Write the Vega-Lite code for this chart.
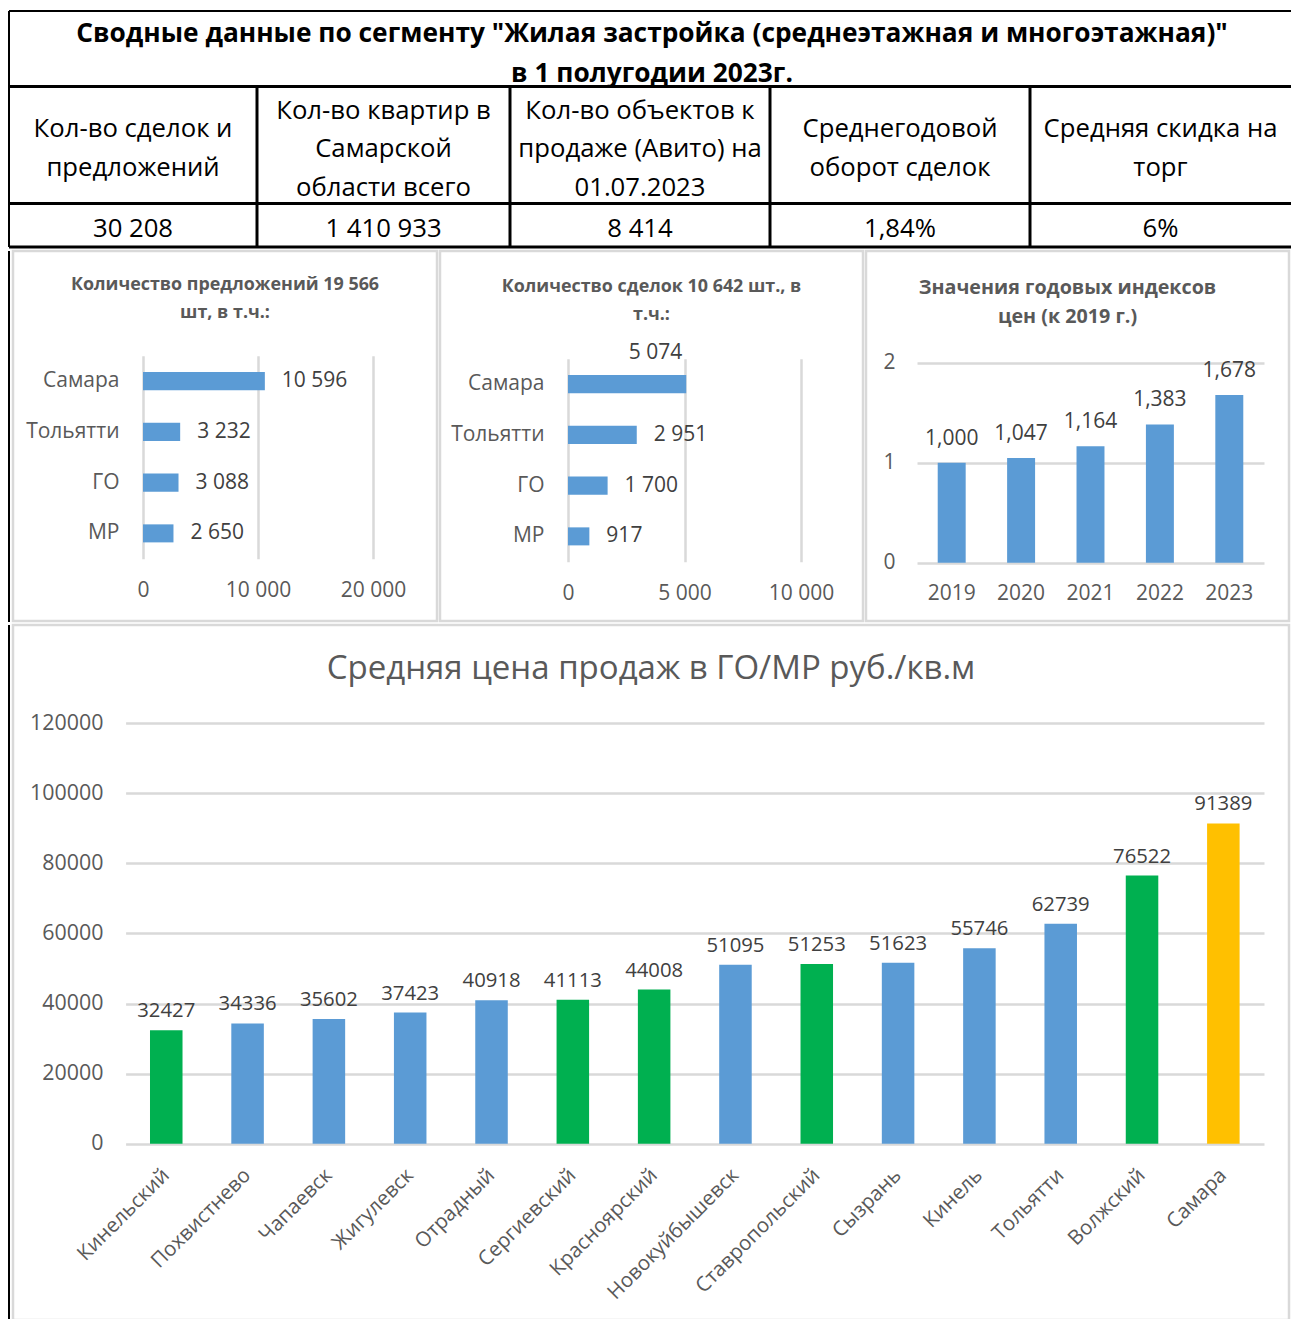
{
  "$schema": "https://vega.github.io/schema/vega-lite/v6.json",
  "padding": 0,
  "background": "white",
  "spacing": 0,
  "config": {
    "view": {"stroke": null},
    "font": "Open Sans",
    "locale": {"number": {"decimal": ",", "thousands": " ", "grouping": [3], "currency": ["", ""]}},
    "axis": {"domain": false, "ticks": false, "tickSize": 0, "labelPadding": 0, "labelColor": "#595959", "labelFont": "Open Sans", "labelFontSize": 21, "gridColor": "#d9d9d9", "gridWidth": 2.5, "labelFlush": false, "labelOverlap": false},
    "title": {"color": "#595959", "font": "Open Sans", "anchor": "middle", "frame": "group", "baseline": "top"}
  },
  "datasets": {
    "tableCells": [
      {"col": 0, "header": ["Кол-во сделок и", "предложений"], "value": "30 208"},
      {"col": 1, "header": ["Кол-во квартир в", "Самарской", "области всего"], "value": "1 410 933"},
      {"col": 2, "header": ["Кол-во объектов к", "продаже (Авито) на", "01.07.2023"], "value": "8 414"},
      {"col": 3, "header": ["Среднегодовой", "оборот сделок"], "value": "1,84%"},
      {"col": 4, "header": ["Средняя скидка на", "торг"], "value": "6%"}
    ],
    "offers": [
      {"city": "Самара", "count": 10596},
      {"city": "Тольятти", "count": 3232},
      {"city": "ГО", "count": 3088},
      {"city": "МР", "count": 2650}
    ],
    "deals": [
      {"city": "Самара", "count": 5074},
      {"city": "Тольятти", "count": 2951},
      {"city": "ГО", "count": 1700},
      {"city": "МР", "count": 917}
    ],
    "indexes": [
      {"year": "2019", "index": 1.000},
      {"year": "2020", "index": 1.047},
      {"year": "2021", "index": 1.164},
      {"year": "2022", "index": 1.383},
      {"year": "2023", "index": 1.678}
    ],
    "prices": [
      {"city": "Кинельский", "type": "МР", "price": 32427},
      {"city": "Похвистнево", "type": "ГО", "price": 34336},
      {"city": "Чапаевск", "type": "ГО", "price": 35602},
      {"city": "Жигулевск", "type": "ГО", "price": 37423},
      {"city": "Отрадный", "type": "ГО", "price": 40918},
      {"city": "Сергиевский", "type": "МР", "price": 41113},
      {"city": "Красноярский", "type": "МР", "price": 44008},
      {"city": "Новокуйбышевск", "type": "ГО", "price": 51095},
      {"city": "Ставропольский", "type": "МР", "price": 51253},
      {"city": "Сызрань", "type": "ГО", "price": 51623},
      {"city": "Кинель", "type": "ГО", "price": 55746},
      {"city": "Тольятти", "type": "ГО", "price": 62739},
      {"city": "Волжский", "type": "МР", "price": 76522},
      {"city": "Самара", "type": "Самара", "price": 91389}
    ]
  },
  "vconcat": [
    {
      "width": 1291,
      "height": 249,
      "layer": [
        {
          "data": {"name": "tableCells"},
          "transform": [{"filter": "length(datum.header) === 2"}],
          "mark": {"type": "text", "fontSize": 25.7, "lineHeight": 39, "baseline": "middle", "align": "center", "dy": -16.5, "color": "#000000"},
          "encoding": {
            "x": {"field": "col", "type": "quantitative", "scale": {"domain": [-0.5, 0.5, 1.5, 2.5, 3.5, 4.5], "range": [9, 257, 510, 770, 1030, 1291], "nice": false, "zero": false}, "axis": null},
            "y": {"datum": 1.5, "type": "quantitative", "scale": {"domain": [0, 1, 2, 3], "range": [11, 86.5, 203.5, 247], "nice": false, "zero": false}, "axis": null},
            "text": {"field": "header"}
          }
        },
        {
          "data": {"name": "tableCells"},
          "transform": [{"filter": "length(datum.header) === 3"}],
          "mark": {"type": "text", "fontSize": 25.7, "lineHeight": 38.5, "baseline": "middle", "align": "center", "dy": -34.5, "color": "#000000"},
          "encoding": {
            "x": {"field": "col", "type": "quantitative"},
            "y": {"datum": 1.5, "type": "quantitative"},
            "text": {"field": "header"}
          }
        },
        {
          "data": {"name": "tableCells"},
          "mark": {"type": "text", "fontSize": 25.7, "baseline": "middle", "align": "center", "dy": 3.5, "color": "#000000"},
          "encoding": {
            "x": {"field": "col", "type": "quantitative"},
            "y": {"datum": 2.5, "type": "quantitative"},
            "text": {"field": "value"}
          }
        },
        {
          "data": {"values": [{}]},
          "mark": {"type": "text", "text": ["Сводные данные по сегменту \"Жилая застройка (среднеэтажная и многоэтажная)\"", "в 1 полугодии 2023г."], "fontSize": 26.3, "fontWeight": "bold", "lineHeight": 40, "baseline": "middle", "align": "center", "dx": 12, "dy": -15, "color": "#000000"},
          "encoding": {"x": {"datum": 2, "type": "quantitative"}, "y": {"datum": 0.5, "type": "quantitative"}}
        },
        {
          "data": {"values": [{}]},
          "mark": {"type": "rule", "color": "#000000", "strokeWidth": 2},
          "encoding": {"x": {"datum": -0.5, "type": "quantitative"}, "x2": {"datum": 4.5}, "y": {"datum": 0, "type": "quantitative"}}
        },
        {
          "data": {"values": [{}]},
          "mark": {"type": "rule", "color": "#000000", "strokeWidth": 3},
          "encoding": {"x": {"datum": -0.5, "type": "quantitative"}, "x2": {"datum": 4.5}, "y": {"datum": 1, "type": "quantitative"}}
        },
        {
          "data": {"values": [{}]},
          "mark": {"type": "rule", "color": "#000000", "strokeWidth": 3},
          "encoding": {"x": {"datum": -0.5, "type": "quantitative"}, "x2": {"datum": 4.5}, "y": {"datum": 2, "type": "quantitative"}}
        },
        {
          "data": {"values": [{}]},
          "mark": {"type": "rule", "color": "#000000", "strokeWidth": 3},
          "encoding": {"x": {"datum": -0.5, "type": "quantitative"}, "x2": {"datum": 4.5}, "y": {"datum": 3, "type": "quantitative"}}
        },
        {
          "data": {"values": [{}]},
          "mark": {"type": "rule", "color": "#000000", "strokeWidth": 2},
          "encoding": {"x": {"datum": -0.5, "type": "quantitative"}, "y": {"datum": 0, "type": "quantitative"}, "y2": {"datum": 3}}
        },
        {
          "data": {"values": [{}]},
          "mark": {"type": "rule", "color": "#000000", "strokeWidth": 3},
          "encoding": {"x": {"datum": 0.5, "type": "quantitative"}, "y": {"datum": 1, "type": "quantitative"}, "y2": {"datum": 3}}
        },
        {
          "data": {"values": [{}]},
          "mark": {"type": "rule", "color": "#000000", "strokeWidth": 3},
          "encoding": {"x": {"datum": 1.5, "type": "quantitative"}, "y": {"datum": 1, "type": "quantitative"}, "y2": {"datum": 3}}
        },
        {
          "data": {"values": [{}]},
          "mark": {"type": "rule", "color": "#000000", "strokeWidth": 3},
          "encoding": {"x": {"datum": 2.5, "type": "quantitative"}, "y": {"datum": 1, "type": "quantitative"}, "y2": {"datum": 3}}
        },
        {
          "data": {"values": [{}]},
          "mark": {"type": "rule", "color": "#000000", "strokeWidth": 3},
          "encoding": {"x": {"datum": 3.5, "type": "quantitative"}, "y": {"datum": 1, "type": "quantitative"}, "y2": {"datum": 3}}
        }
      ]
    },
    {
      "spacing": 0,
      "bounds": "flush",
      "hconcat": [
        {"width": 8, "height": 10, "view": {"stroke": null}, "data": {"values": [{}]}, "mark": {"type": "point", "opacity": 0}, "encoding": {}},
        {"width": 2, "height": 371, "view": {"fill": "#000000", "stroke": null}, "data": {"values": [{}]}, "mark": {"type": "point", "opacity": 0}, "encoding": {}},
        {"width": 3, "height": 10, "view": {"stroke": null}, "data": {"values": [{}]}, "mark": {"type": "point", "opacity": 0}, "encoding": {}},
        {
          "width": 424,
          "height": 370,
          "view": {"stroke": "#d9d9d9", "strokeWidth": 2.5},
          "title": {"text": ["Количество предложений 19 566", "шт, в т.ч.:"], "fontSize": 17.9, "fontWeight": "bold", "lineHeight": 28, "offset": -70.75},
          "data": {"name": "offers"},
          "encoding": {
            "y": {"field": "city", "type": "nominal", "sort": null, "title": null,
              "scale": {"domain": ["Самара", "Тольятти", "ГО", "МР"], "range": [104.75, 307.75], "paddingInner": 0.645, "paddingOuter": 0.3225},
              "axis": {"orient": "left", "offset": -106, "grid": false}},
            "x": {"field": "count", "type": "quantitative", "title": null,
              "scale": {"domain": [0, 20000], "range": [130, 360], "nice": false},
              "axis": {"orient": "top", "values": [0, 10000, 20000], "tickCount": 3, "format": ",d", "grid": true, "offset": -339.75, "labelBaseline": "middle"}}
          },
          "layer": [
            {"mark": {"type": "bar", "color": "#5B9BD5"}},
            {"mark": {"type": "text", "align": "left", "baseline": "middle", "dx": 17, "fontSize": 21, "color": "#404040"}, "encoding": {"text": {"field": "count", "type": "quantitative", "format": ",d"}}}
          ]
        },
        {"width": 3, "height": 10, "view": {"stroke": null}, "data": {"values": [{}]}, "mark": {"type": "point", "opacity": 0}, "encoding": {}},
        {
          "width": 423,
          "height": 370,
          "view": {"stroke": "#d9d9d9", "strokeWidth": 2.5},
          "title": {"text": ["Количество сделок 10 642 шт., в", "т.ч.:"], "fontSize": 17.9, "fontWeight": "bold", "lineHeight": 28, "offset": -72.75},
          "data": {"name": "deals"},
          "encoding": {
            "y": {"field": "city", "type": "nominal", "sort": null, "title": null,
              "scale": {"domain": ["Самара", "Тольятти", "ГО", "МР"], "range": [107.75, 310.75], "paddingInner": 0.645, "paddingOuter": 0.3225},
              "axis": {"orient": "left", "offset": -104, "grid": false}},
            "x": {"field": "count", "type": "quantitative", "title": null,
              "scale": {"domain": [0, 10000], "range": [128, 361], "nice": false},
              "axis": {"orient": "top", "values": [0, 5000, 10000], "tickCount": 3, "format": ",d", "grid": true, "offset": -342.75, "labelBaseline": "middle"}}
          },
          "layer": [
            {"mark": {"type": "bar", "color": "#5B9BD5"}},
            {"transform": [{"filter": "datum.city !== 'Самара'"}], "mark": {"type": "text", "align": "left", "baseline": "middle", "dx": 17, "fontSize": 21, "color": "#404040"}, "encoding": {"text": {"field": "count", "type": "quantitative", "format": ",d"}}},
            {"transform": [{"filter": "datum.city === 'Самара'"}], "mark": {"type": "text", "align": "right", "baseline": "middle", "dx": -4, "dy": -31, "fontSize": 21, "color": "#404040"}, "encoding": {"text": {"field": "count", "type": "quantitative", "format": ",d"}}}
          ]
        },
        {"width": 3, "height": 10, "view": {"stroke": null}, "data": {"values": [{}]}, "mark": {"type": "point", "opacity": 0}, "encoding": {}},
        {
          "width": 423,
          "height": 370,
          "view": {"stroke": "#d9d9d9", "strokeWidth": 2.5},
          "title": {"text": ["Значения годовых индексов", "цен (к 2019 г.)"], "fontSize": 19.7, "fontWeight": "bold", "lineHeight": 29, "offset": -76, "dx": -10},
          "data": {"name": "indexes"},
          "encoding": {
            "x": {"field": "year", "type": "nominal", "sort": null, "title": null,
              "scale": {"range": [51, 398], "paddingInner": 0.597, "paddingOuter": 0.2985},
              "axis": {"labelAngle": 0, "offset": -27.25, "labelBaseline": "middle", "grid": false}},
            "y": {"field": "index", "type": "quantitative", "title": null,
              "scale": {"domain": [0, 2], "range": [311.75, 111.75], "nice": false},
              "axis": {"tickCount": 2, "grid": true, "offset": -29}}
          },
          "layer": [
            {"mark": {"type": "bar", "color": "#5B9BD5"}},
            {"mark": {"type": "text", "align": "center", "baseline": "middle", "dy": -24, "fontSize": 21, "color": "#404040"}, "encoding": {"text": {"field": "index", "type": "quantitative", "format": ".3f"}}}
          ]
        }
      ]
    },
    {
      "spacing": 0,
      "bounds": "flush",
      "hconcat": [
        {"width": 8, "height": 10, "view": {"stroke": null}, "data": {"values": [{}]}, "mark": {"type": "point", "opacity": 0}, "encoding": {}},
        {"width": 2, "height": 695, "view": {"fill": "#000000", "stroke": null}, "data": {"values": [{}]}, "mark": {"type": "point", "opacity": 0}, "encoding": {}},
        {"width": 3, "height": 10, "view": {"stroke": null}, "data": {"values": [{}]}, "mark": {"type": "point", "opacity": 0}, "encoding": {}},
        {
          "width": 1276,
          "height": 695,
          "view": {"stroke": "#d9d9d9", "strokeWidth": 2.5},
          "title": {"text": "Средняя цена продаж в ГО/МР руб./кв.м", "fontSize": 33, "fontWeight": "normal", "offset": -61},
          "data": {"name": "prices"},
          "encoding": {
            "x": {"field": "city", "type": "nominal", "sort": null, "title": null,
              "scale": {"range": [112.6, 1251], "paddingInner": 0.6, "paddingOuter": 0.3},
              "axis": {"labelAngle": -45, "labelAlign": "right", "labelBaseline": "middle", "offset": -176.15, "labelPadding": 28, "labelFontSize": 20.5, "grid": false}},
            "y": {"field": "price", "type": "quantitative", "title": null,
              "scale": {"domain": [0, 120000], "range": [518.85, 98.05], "nice": false},
              "axis": {"values": [0, 20000, 40000, 60000, 80000, 100000, 120000], "tickCount": 7, "format": "d", "grid": true, "offset": -90, "labelFontSize": 21.4}}
          },
          "layer": [
            {"mark": {"type": "bar"}, "encoding": {"color": {"field": "type", "type": "nominal", "scale": {"domain": ["МР", "ГО", "Самара"], "range": ["#00B050", "#5B9BD5", "#FFC000"]}, "legend": null}}},
            {"mark": {"type": "text", "align": "center", "baseline": "middle", "dy": -19, "fontSize": 20.3, "color": "#404040"}, "encoding": {"text": {"field": "price", "type": "quantitative", "format": "d"}}}
          ]
        }
      ]
    }
  ]
}
